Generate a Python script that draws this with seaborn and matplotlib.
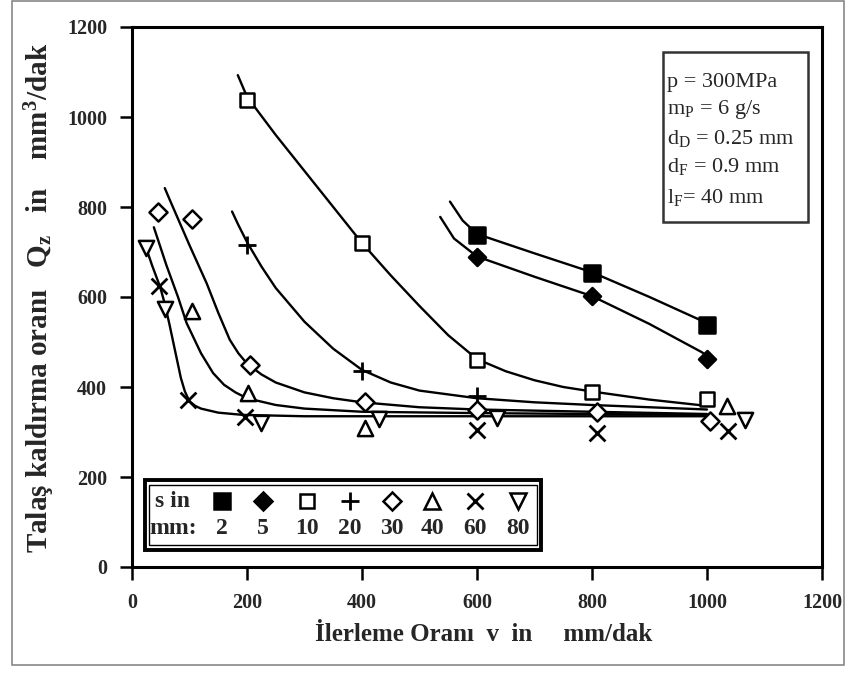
import matplotlib
matplotlib.use("Agg")
import matplotlib.pyplot as plt
import seaborn as sns
import pandas as pd
from matplotlib.patches import Rectangle
from matplotlib.lines import Line2D

# ---- data ----
s_labels = ["2", "5", "10", "20", "30", "40", "60", "80"]

v_2 = [600, 800, 1000]
q_2 = [738, 653, 538]
v_5 = [600, 800, 1000]
q_5 = [688, 602, 462]
v_10 = [200, 400, 600, 800, 1000]
q_10 = [1038, 719, 459, 388, 373]
v_20 = [200, 400, 600]
q_20 = [716, 436, 380]
v_30 = [45, 105, 205, 405, 600, 808, 1005]
q_30 = [788, 774, 449, 367, 349, 345, 325]
v_40 = [105, 202, 405, 1035]
q_40 = [570, 386, 310, 358]
v_60 = [47, 97, 197, 600, 808, 1037]
q_60 = [625, 371, 333, 304, 298, 303]
v_80 = [25, 57, 224, 430, 634, 1066]
q_80 = [710, 574, 320, 328, 331, 327]

# fitted trend curves
cv_2 = [553, 575, 600, 700, 800, 900, 1000]
cq_2 = [812, 770, 740, 697, 655, 600, 542]
cv_5 = [536, 560, 600, 700, 800, 900, 990, 1000]
cq_5 = [778, 730, 690, 645, 602, 540, 478, 470]
cv_10 = [184, 200, 250, 300, 350, 400, 450, 500, 550, 600, 650, 700, 750, 800, 900, 1000]
cq_10 = [1093, 1045, 960, 880, 800, 720, 648, 580, 515, 462, 435, 415, 400, 390, 372, 358]
cv_20 = [174, 185, 200, 225, 250, 300, 350, 400, 450, 500, 600, 700, 800, 900, 1000]
cq_20 = [790, 760, 722, 668, 620, 545, 485, 438, 410, 392, 375, 366, 360, 355, 350]
cv_30 = [57, 66, 100, 130, 150, 170, 185, 200, 225, 250, 300, 350, 400, 500, 600, 800, 1000]
cq_30 = [842, 815, 715, 630, 565, 505, 475, 452, 428, 410, 388, 375, 366, 355, 350, 345, 340]
cv_40 = [38, 60, 80, 95, 120, 141, 160, 180, 200, 250, 300, 400, 600, 800, 1000]
cq_40 = [755, 670, 600, 542, 475, 431, 405, 388, 375, 360, 352, 345, 342, 340, 338]
cv_60 = [23, 35, 49, 57, 65, 75, 85, 92, 100, 110, 120, 150, 193, 300, 1000]
cq_60 = [715, 670, 622, 585, 540, 480, 420, 390, 368, 358, 352, 343, 338, 335, 335]

x_ticks = [0, 200, 400, 600, 800, 1000, 1200]
y_ticks = [0, 200, 400, 600, 800, 1000, 1200]

info_lines = ["p = 300MPa", r"m$_\mathrm{P}$ = 6 g/s", r"d$_\mathrm{D}$ = 0.25 mm",
              r"d$_\mathrm{F}$ = 0.9 mm", r"l$_\mathrm{F}$= 40 mm"]

# ---- style ----
sns.set_style("white")
plt.rcParams["font.family"] = ["Liberation Serif", "DejaVu Serif"]
plt.rcParams["mathtext.fontset"] = "custom"
plt.rcParams["mathtext.rm"] = "Liberation Serif"
plt.rcParams["mathtext.it"] = "Liberation Serif:italic"
plt.rcParams["mathtext.bf"] = "Liberation Serif:bold"

fig = plt.figure(figsize=(8.46, 6.81), dpi=100)
ax = fig.add_axes([132/846, 1-567/681, 690/846, 540/681])

# figure border
fig.patches.append(Rectangle((12/846, 16/681), 832/846, 664/681, transform=fig.transFigure,
                             fill=False, edgecolor="#888888", linewidth=1.2))

# curves
curves = [(cv_2, cq_2), (cv_5, cq_5), (cv_10, cq_10), (cv_20, cq_20),
          (cv_30, cq_30), (cv_40, cq_40), (cv_60, cq_60)]
for cv, cq in curves:
    sns.lineplot(x=cv, y=cq, ax=ax, color="black", linewidth=1.7, sort=False,
                 estimator=None)

# markers
series = [
    (v_2, q_2, "s", "black", 120),
    (v_5, q_5, "D", "black", 75),
    (v_10, q_10, "s", "white", 110),
    (v_20, q_20, "+", "black", 170),
    (v_30, q_30, "D", "white", 85),
    (v_40, q_40, "^", "white", 120),
    (v_60, q_60, "x", "black", 130),
    (v_80, q_80, "v", "white", 120),
]
for v, q, m, fc, sz in series:
    df = pd.DataFrame({"v": v, "q": q})
    if m in ("+", "x"):
        sns.scatterplot(data=df, x="v", y="q", ax=ax, marker=m, s=sz,
                        color="black", linewidth=2.0, zorder=5)
    else:
        sns.scatterplot(data=df, x="v", y="q", ax=ax, marker=m, s=sz,
                        facecolor=fc, edgecolor="black", linewidth=1.8, zorder=5)

ax.set_xlim(0, 1200)
ax.set_ylim(0, 1200)
ax.set_xticks(x_ticks)
ax.set_yticks(y_ticks)
ax.set_xticklabels([str(t) for t in x_ticks], fontweight="bold", fontsize=14.5)
ax.set_yticklabels([str(t) for t in y_ticks], fontweight="bold", fontsize=14.5)
ax.tick_params(axis="both", direction="out", length=9, width=1.8, color="black",
               left=True, bottom=True)
ax.tick_params(axis="x", pad=10)
ax.tick_params(axis="y", pad=9)
for sp in ax.spines.values():
    sp.set_visible(True)
    sp.set_color("black")
    sp.set_linewidth(2.2)

ax.set_xlabel("İlerleme Oranı  v  in     mm/dak", fontweight="bold", fontsize=18)
ax.xaxis.set_label_coords(0.509, -0.104)
ax.set_ylabel(r"Talaş kaldırma oranı   Q$_\mathbf{z}$   in    mm$^\mathbf{3}$/dak",
              fontweight="bold", fontsize=21)
ax.yaxis.set_label_coords(-0.108, 0.498)

# info box
ax.add_patch(Rectangle((0.770, 0.639), 0.210, 0.315, transform=ax.transAxes,
                       fill=True, facecolor="white", edgecolor="#333333", linewidth=1.8, zorder=6))
info_y = [0.898, 0.848, 0.794, 0.741, 0.685]
for t, yy in zip(info_lines, info_y):
    ax.text(0.776, yy, t, transform=ax.transAxes, fontsize=16, va="center", ha="left", zorder=7)

# marker legend box
ax.add_patch(Rectangle((0.019, 0.031), 0.574, 0.130, transform=ax.transAxes,
                       fill=True, facecolor="white", edgecolor="black", linewidth=2.8, zorder=6))
ax.add_patch(Rectangle((0.025, 0.040), 0.562, 0.112, transform=ax.transAxes,
                       fill=False, edgecolor="black", linewidth=1.0, zorder=6))
ax.text(0.059, 0.122, "s in", transform=ax.transAxes, fontsize=17, fontweight="bold",
        ha="center", va="center", zorder=7)
ax.text(0.059, 0.072, "mm:", transform=ax.transAxes, fontsize=17, fontweight="bold",
        ha="center", va="center", zorder=7)
leg_x = [0.130, 0.190, 0.254, 0.316, 0.377, 0.435, 0.497, 0.559]
for xx, lab, (v, q, m, fc, sz) in zip(leg_x, s_labels, series):
    msz = (sz ** 0.5)
    if m in ("+", "x"):
        ln = Line2D([xx], [0.122], marker=m, markersize=msz, color="black",
                    markeredgewidth=2.0, linestyle="", transform=ax.transAxes, zorder=7)
    else:
        ln = Line2D([xx], [0.122], marker=m, markersize=msz, markerfacecolor=fc,
                    markeredgecolor="black", markeredgewidth=1.8, linestyle="",
                    transform=ax.transAxes, zorder=7)
    ax.add_line(ln)
    ax.text(xx, 0.072, lab, transform=ax.transAxes, fontsize=17, fontweight="bold",
            ha="center", va="center", zorder=7)

fig.savefig("out.png", dpi=100)
